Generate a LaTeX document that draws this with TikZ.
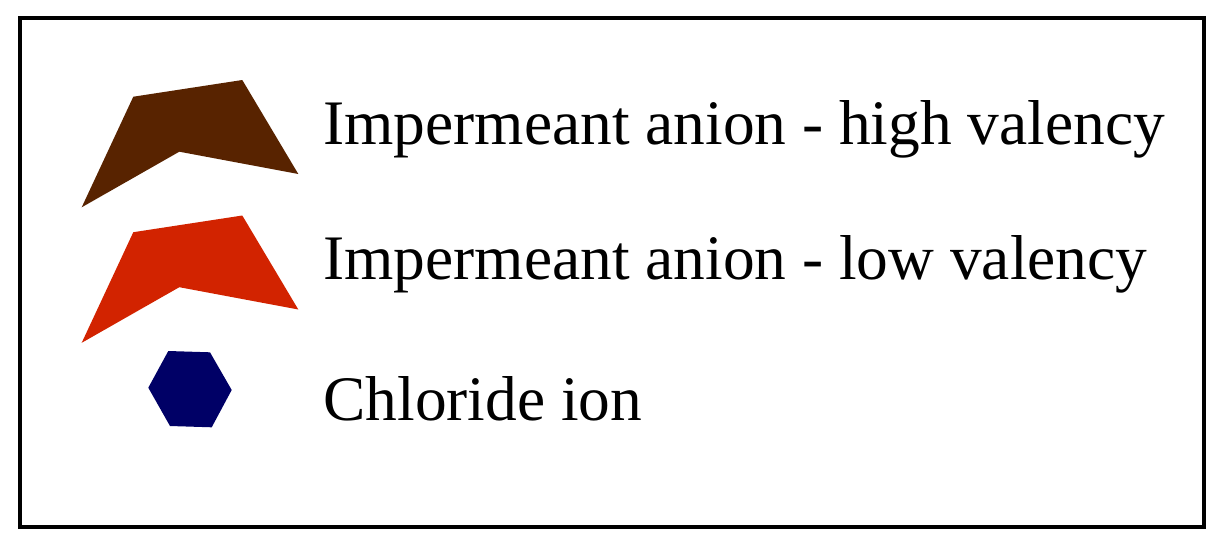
\documentclass[tikz,border=0pt]{standalone}
\usepackage{fontspec}
\setmainfont{Liberation Serif}
\definecolor{AnionHigh}{HTML}{582300}
\definecolor{AnionLow}{HTML}{D22300}
\definecolor{ChlorideBlue}{HTML}{000066}
\usetikzlibrary{positioning}

\begin{document}
\begin{tikzpicture}[x=0.5pt, y=-0.5pt,
    legendtext/.style={anchor=base west, inner sep=0pt, font=\fontsize{31.7}{36}\selectfont}]
  \useasboundingbox (0,0) rectangle (1214,541);
  % Frame
  \draw[line width=2pt] (20,18) rectangle (1203.5,526.5);
  % High valency anion
  \fill[AnionHigh] (133.3,96.7) -- (242.3,80) -- (298.3,174) -- (179.3,151.7) -- (81.7,207.3) -- cycle;
  \node[legendtext] (high) at (323,144.3) {Impermeant anion - high valency};
  % Low valency anion
  \fill[AnionLow, yshift=-67.75pt] (133.3,96.7) -- (242.3,80) -- (298.3,174) -- (179.3,151.7) -- (81.7,207.3) -- cycle;
  \node[legendtext] (low) at (323,279.3) {Impermeant anion - low valency};
  % Chloride
  \fill[ChlorideBlue] (168.3,351) -- (210,352.3) -- (231.7,390) -- (211.7,427.3) -- (170,426) -- (148.3,387.7) -- cycle;
  \node[legendtext] (chloride) at (323,420) {Chloride ion};
\end{tikzpicture}
\end{document}
